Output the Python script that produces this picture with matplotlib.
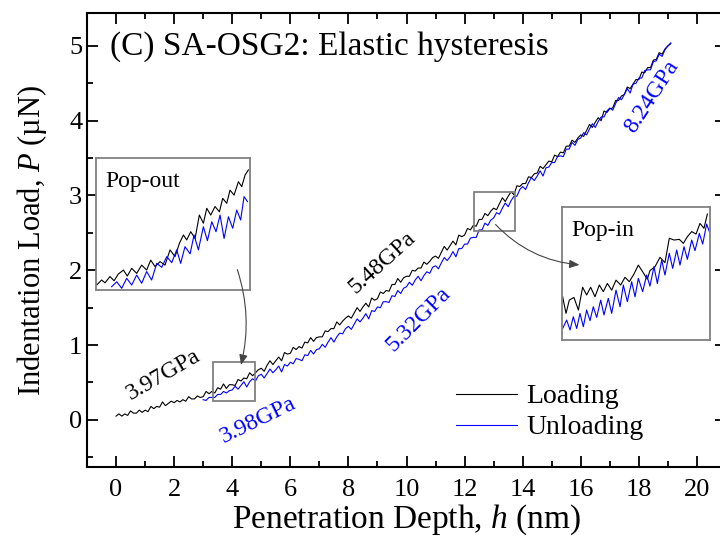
import numpy as np
import matplotlib.pyplot as plt
import matplotlib.ticker as tck
from matplotlib.patches import Rectangle, FancyArrowPatch

plt.rcParams['font.family'] = ['Liberation Serif', 'DejaVu Serif']
plt.rcParams['mathtext.fontset'] = 'custom'
plt.rcParams['mathtext.rm'] = 'Liberation Serif'
plt.rcParams['mathtext.it'] = 'Liberation Serif:italic'

#-------------------------------------------------------------
# load P (uN) recorded every 0.1 nm of depth
P_load = [
    0.05, 0.08, 0.05, 0.08, 0.06, 0.12, 0.09, 0.09, 0.13, 0.10,
    0.13, 0.11, 0.18, 0.15, 0.18, 0.17, 0.24, 0.19, 0.22, 0.25,
    0.23, 0.26, 0.24, 0.27, 0.25, 0.31, 0.28, 0.28, 0.32, 0.30,
    0.31, 0.38, 0.35, 0.38, 0.36, 0.43, 0.41, 0.48, 0.42, 0.47,
    0.47, 0.46, 0.54, 0.52, 0.56, 0.55, 0.63, 0.59, 0.63, 0.67,
    0.69, 0.65, 0.73, 0.79, 0.74, 0.79, 0.84, 0.79, 0.90, 0.88,
    0.89, 0.97, 0.94, 0.98, 0.96, 1.04, 1.03, 1.10, 1.05, 1.10,
    1.11, 1.11, 1.19, 1.18, 1.22, 1.22, 1.31, 1.27, 1.32, 1.36,
    1.39, 1.36, 1.43, 1.50, 1.45, 1.51, 1.56, 1.51, 1.63, 1.60,
    1.62, 1.71, 1.69, 1.73, 1.72, 1.81, 1.81, 1.89, 1.84, 1.90,
    1.92, 1.92, 2.00, 1.99, 2.03, 2.03, 2.11, 2.08, 2.12, 2.17,
    2.19, 2.16, 2.24, 2.32, 2.27, 2.33, 2.39, 2.34, 2.47, 2.45,
    2.47, 2.56, 2.54, 2.60, 2.59, 2.68, 2.68, 2.76, 2.73, 2.79,
    2.83, 2.81, 2.89, 2.97, 2.92, 2.99, 3.05, 3.01, 3.13, 3.12,
    3.16, 3.16, 3.25, 3.24, 3.29, 3.30, 3.39, 3.36, 3.41, 3.46,
    3.45, 3.54, 3.52, 3.58, 3.57, 3.66, 3.66, 3.74, 3.71, 3.77,
    3.81, 3.79, 3.87, 3.95, 3.91, 3.98, 4.04, 4.00, 4.13, 4.11,
    4.16, 4.17, 4.27, 4.27, 4.33, 4.35, 4.45, 4.43, 4.49, 4.55,
    4.55, 4.65, 4.64, 4.71, 4.71, 4.81, 4.82, 4.91, 4.89, 4.96,
    5.00, 5.03]
h_load = np.arange(len(P_load)) * 0.1

P_unload = [
    0.27, 0.26, 0.30, 0.30, 0.30, 0.34, 0.34, 0.38, 0.36, 0.39,
    0.40, 0.45, 0.41, 0.46, 0.51, 0.44, 0.51, 0.55, 0.52, 0.59,
    0.61, 0.56, 0.62, 0.68, 0.63, 0.67, 0.72, 0.64, 0.74, 0.72,
    0.77, 0.75, 0.82, 0.81, 0.79, 0.87, 0.86, 0.93, 0.88, 0.94,
    0.95, 1.01, 0.97, 1.04, 1.10, 1.04, 1.11, 1.16, 1.15, 1.22,
    1.25, 1.21, 1.28, 1.35, 1.31, 1.36, 1.42, 1.35, 1.46, 1.45,
    1.51, 1.50, 1.58, 1.58, 1.57, 1.66, 1.65, 1.73, 1.69, 1.76,
    1.78, 1.84, 1.80, 1.87, 1.92, 1.86, 1.93, 1.98, 1.96, 2.04,
    2.06, 2.02, 2.10, 2.17, 2.13, 2.18, 2.25, 2.18, 2.29, 2.29,
    2.35, 2.35, 2.43, 2.44, 2.44, 2.54, 2.54, 2.63, 2.60, 2.67,
    2.70, 2.77, 2.75, 2.83, 2.90, 2.85, 2.93, 2.99, 2.99, 3.08,
    3.12, 3.08, 3.17, 3.24, 3.20, 3.26, 3.33, 3.26, 3.37, 3.38,
    3.44, 3.44, 3.52, 3.53, 3.52, 3.62, 3.62, 3.71, 3.67, 3.75,
    3.77, 3.84, 3.81, 3.89, 3.96, 3.91, 3.99, 4.05, 4.05, 4.13,
    4.17, 4.14, 4.23, 4.31, 4.28, 4.35, 4.43, 4.37, 4.49, 4.50,
    4.57, 4.57, 4.67, 4.68, 4.68, 4.79, 4.80, 4.89, 4.86, 4.95,
    5.00, 5.04]
h_unload = 3.0 + np.arange(len(P_unload)) * 0.1

# close-up records for the two insets
h_out_load = [3.356, 3.403, 3.435, 3.482, 3.520, 3.560, 3.608, 3.645, 3.686, 3.733,
              3.780, 3.827, 3.865, 3.906, 3.953, 4.000, 4.047, 4.094, 4.135, 4.173,
              4.204, 4.242, 4.283, 4.323, 4.361, 4.393, 4.430, 4.471, 4.512, 4.543,
              4.581, 4.612, 4.650, 4.691, 4.722, 4.754, 4.785]
P_out_load = [0.270, 0.290, 0.279, 0.304, 0.287, 0.314, 0.330, 0.306, 0.337, 0.317,
              0.350, 0.330, 0.370, 0.344, 0.364, 0.350, 0.411, 0.384, 0.437, 0.471,
              0.451, 0.484, 0.457, 0.551, 0.518, 0.578, 0.551, 0.585, 0.564, 0.618,
              0.598, 0.651, 0.631, 0.685, 0.665, 0.712, 0.732]
h_out_unload = [3.497, 3.545, 3.592, 3.639, 3.686, 3.733, 3.780, 3.827, 3.874, 3.922,
                3.969, 4.016, 4.063, 4.110, 4.147, 4.188, 4.236, 4.273, 4.314, 4.361,
                4.399, 4.440, 4.480, 4.518, 4.556, 4.597, 4.637, 4.675, 4.712, 4.744,
                4.776]
P_out_unload = [0.263, 0.283, 0.257, 0.297, 0.270, 0.310, 0.277, 0.324, 0.290, 0.357,
                0.341, 0.384, 0.360, 0.411, 0.357, 0.424, 0.395, 0.471, 0.411, 0.504,
                0.448, 0.524, 0.484, 0.551, 0.457, 0.544, 0.498, 0.571, 0.531, 0.625,
                0.605]

h_in_load = [12.406, 12.438, 12.469, 12.513, 12.555, 12.595, 12.633, 12.671, 12.712, 12.753,
             12.791, 12.829, 12.870, 12.911, 12.955, 12.996, 13.037, 13.081, 13.122, 13.163,
             13.207, 13.232, 13.280, 13.327, 13.374, 13.415, 13.460, 13.510, 13.548, 13.586,
             13.627, 13.668, 13.705, 13.743, 13.775]
P_in_load = [2.645, 2.570, 2.630, 2.642, 2.585, 2.688, 2.653, 2.688, 2.645, 2.698,
             2.668, 2.705, 2.675, 2.720, 2.698, 2.733, 2.713, 2.748, 2.788, 2.758,
             2.724, 2.763, 2.781, 2.823, 2.799, 2.909, 2.901, 2.904, 2.886, 2.916,
             2.939, 2.928, 2.976, 2.954, 3.018]
h_in_unload = [12.406, 12.444, 12.476, 12.507, 12.539, 12.570, 12.602, 12.633, 12.665, 12.696,
               12.728, 12.766, 12.797, 12.838, 12.870, 12.911, 12.949, 12.980, 13.018, 13.059,
               13.091, 13.122, 13.163, 13.201, 13.232, 13.270, 13.302, 13.343, 13.374, 13.415,
               13.447, 13.485, 13.516, 13.554, 13.586, 13.627, 13.658, 13.699, 13.731, 13.768,
               13.794]
P_in_unload = [2.502, 2.540, 2.495, 2.555, 2.502, 2.570, 2.510, 2.585, 2.537, 2.600,
               2.552, 2.630, 2.563, 2.638, 2.570, 2.675, 2.600, 2.698, 2.623, 2.713,
               2.645, 2.728, 2.668, 2.743, 2.693, 2.781, 2.705, 2.811, 2.743, 2.841,
               2.773, 2.856, 2.788, 2.871, 2.814, 2.901, 2.853, 2.931, 2.883, 2.973,
               2.939]

#-------------------------------------------------------------
fig = plt.figure(figsize=(7.2, 5.4), dpi=100)
ax = fig.add_axes([87/720, 1-467/540, (726-87)/720, (467-13)/540])

ax.plot(h_load, P_load, color='black', lw=0.8, label='Loading')
ax.plot(h_unload, P_unload, color='blue', lw=0.8, label='Unloading')

ax.set_xlim(-1, 21)
ax.set_ylim(-0.63, 5.44)
ax.set_xticks(np.arange(0, 21, 2))
ax.set_yticks(np.arange(0, 6, 1))
ax.xaxis.set_minor_locator(tck.MultipleLocator(1))
ax.yaxis.set_minor_locator(tck.MultipleLocator(0.5))
ax.tick_params(which='both', direction='in', top=True, right=True, width=1.3,
               labelsize=19)
ax.tick_params(which='major', length=8)
ax.tick_params(which='minor', length=4)
ax.tick_params(axis='x', pad=9)
for s in ax.spines.values():
    s.set_linewidth(1.5)

ax.set_xlabel('Penetration Depth, $h$ (nm)', fontsize=24, labelpad=1)
ax.set_ylabel('Indentation Load, $P$ (\u00b5N)', fontsize=22, labelpad=14)

ax.text(-0.22, 4.99, '(C) SA-OSG2: Elastic hysteresis', fontsize=24,
        ha='left', va='center')

# hardness values along the curves
ax.text(1.62, 0.60, '3.97GPa', fontsize=17, rotation=30, ha='center', va='center', color='black')
ax.text(4.9, -0.01, '3.98GPa', fontsize=17, rotation=26, ha='center', va='center', color='blue')
ax.text(9.15, 2.11, '5.48GPa', fontsize=17, rotation=42, ha='center', va='center', color='black')
ax.text(10.43, 1.34, '5.32GPa', fontsize=17, rotation=45, ha='center', va='center', color='blue')
ax.text(18.45, 4.32, '8.24GPa', fontsize=17, rotation=57, ha='center', va='center', color='blue')

# zoom boxes
ax.add_patch(Rectangle((3.35, 0.25), 1.45, 0.53, fill=False, ec='#808080', lw=1.3, zorder=5))
ax.add_patch(Rectangle((12.33, 2.53), 1.42, 0.52, fill=False, ec='#808080', lw=1.3, zorder=5))

leg = ax.legend(loc='center left', bbox_to_anchor=(456/720, 1-412/540), bbox_transform=fig.transFigure,
                frameon=False, fontsize=20, handlelength=2.2, handletextpad=0.32,
                labelspacing=0.2, borderaxespad=0, borderpad=0)

# insets
def inset(rect, hl, pl, hu, pu, xlim, ylim, title):
    a = fig.add_axes(rect)
    a.plot(hl, pl, color='black', lw=0.8)
    a.plot(hu, pu, color='blue', lw=0.8)
    a.set_xlim(*xlim)
    a.set_ylim(*ylim)
    a.set_xticks([])
    a.set_yticks([])
    for s in a.spines.values():
        s.set_color('#808080')
        s.set_linewidth(1.3)
    a.text(0.06, 0.82, title, transform=a.transAxes, fontsize=17, ha='left', va='center')
    return a

inset([96/720, 1-290/540, 154/720, 132/540], h_out_load, P_out_load, h_out_unload, P_out_unload,
      (3.35, 4.80), (0.25, 0.78), 'Pop-out')
inset([562/720, 1-340/540, 148/720, 133/540], h_in_load, P_in_load, h_in_unload, P_in_unload,
      (12.40, 13.80), (2.45, 3.05), 'Pop-in')

# arrows from the zoom boxes, drawn above the insets
arrow_kw = dict(arrowstyle='-|>,head_length=6,head_width=2.5', color='#444444', lw=0.8,
                transform=ax.transData, zorder=10)
fig.add_artist(FancyArrowPatch((4.145, 2.045), (4.28, 0.70),
                               connectionstyle='arc3,rad=-0.15', **arrow_kw))
fig.add_artist(FancyArrowPatch((13.0, 2.64), (16.05, 2.07),
                               connectionstyle='arc3,rad=0.2', **arrow_kw))

plt.savefig('out.png', dpi=100)
